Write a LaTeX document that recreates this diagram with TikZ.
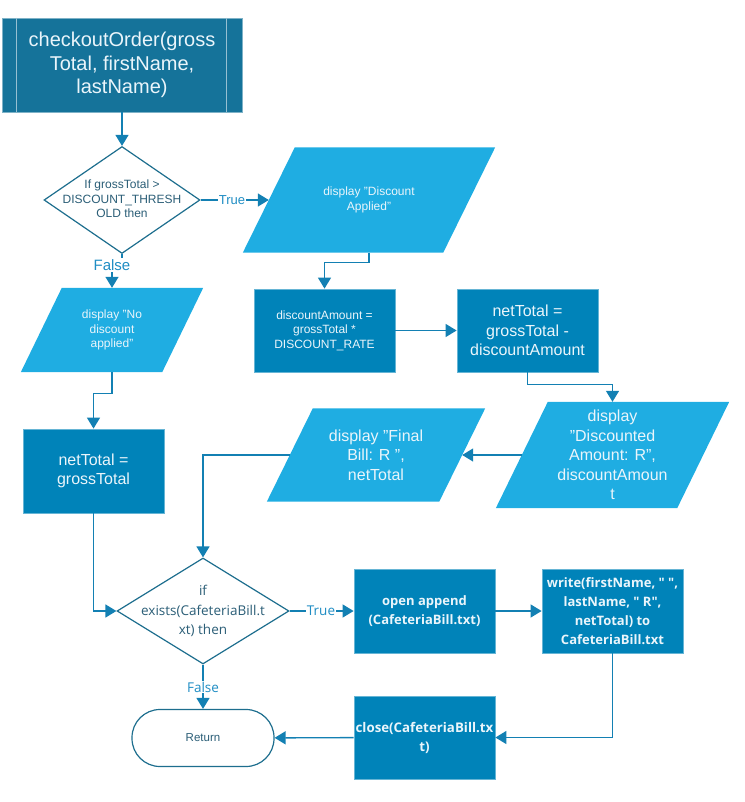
\documentclass[tikz,border=0pt]{standalone}
\usepackage{fontspec}
\setmainfont{Liberation Sans}
\newfontfamily\segoe{Open Sans}
\usetikzlibrary{arrows.meta,shapes.geometric,backgrounds}

\definecolor{startfill}{HTML}{15739A}
\definecolor{procfill}{HTML}{0083B9}
\definecolor{iofill}{HTML}{1FADE2}
\definecolor{flowline}{HTML}{1380B3}
\definecolor{decline}{HTML}{1D6E8E}
\definecolor{dectext}{HTML}{2B5E77}
\definecolor{lbl}{HTML}{1F8DC4}
\definecolor{boxtext}{HTML}{EAF5FB}

% straight double quote
\newcommand\dq{\symbol{34}}

% parallelogram fill behind an io node: #1 node name, #2 half of the slant
\newcommand\ioshape[2]{%
  \begin{scope}[on background layer]
    \fill[iofill] ([xshift=#2]#1.north west) -- ([xshift=#2]#1.north east)
      -- ([xshift=-#2]#1.south east) -- ([xshift=-#2]#1.south west) -- cycle;
  \end{scope}}

\tikzset{
  startbox/.style={rectangle, fill=startfill, draw=startfill!55!white, line width=0.8pt,
    text=boxtext, align=center, inner sep=0pt},
  proc/.style={rectangle, fill=procfill, draw=procfill!60!white, line width=0.8pt,
    text=boxtext, align=center, inner sep=0pt},
  iobox/.style={rectangle, inner sep=0pt, text=boxtext, align=center},
  decision/.style={diamond, draw=decline, fill=white, line width=1.2pt, inner sep=0pt},
  dectxt/.style={text=dectext, align=center, inner sep=0pt},
  terminal/.style={rectangle, rounded corners=28pt, draw=decline, fill=white, line width=1.2pt,
    text=dectext, inner sep=0pt},
  flow/.style={draw=flowline, line width=1.4pt, -{Triangle[width=13pt,length=11pt]}},
  edgelbl/.style={fill=white, text=lbl, inner sep=1pt},
  small/.style={font=\fontsize{12}{14.5}\selectfont},
  mid/.style={font=\fontsize{16}{19.5}\selectfont},
  sgo/.style={font=\segoe\fontsize{13.5}{19.5}\selectfont},
  sgob/.style={font=\segoe\bfseries\fontsize{13}{19}\selectfont},
}

\begin{document}
\begin{tikzpicture}[x=1pt,y=-1pt]
\useasboundingbox (0,0) rectangle (744,802);

% entry procedure
\node[startbox, minimum width=240, minimum height=94,
  font=\fontsize{20}{23.5}\selectfont] (start) at (122,65)
  {checkoutOrder(gross\\Total, firstName,\\lastName)};
\draw[startfill!45!white, line width=1.1pt]
  ([xshift=15]start.north west) -- ([xshift=15]start.south west)
  ([xshift=-16]start.north east) -- ([xshift=-16]start.south east);

% first decision
\node[decision, minimum width=156, minimum height=107] (d1) at (122,200) {};
\node[dectxt, small] (d1t) at (122,199) {If grossTotal >\\DISCOUNT\_THRESH\\OLD then};

% discount branch
\node[iobox, small, minimum width=200, minimum height=105] (pA) at (369,200)
  {display \dq Discount\\Applied\dq};
\ioshape{pA}{26}
\node[proc, small, minimum width=141, minimum height=83] (b1) at (324.5,330.5)
  {discountAmount =\\grossTotal *\\DISCOUNT\_RATE};
\node[proc, mid, minimum width=141, minimum height=83] (b2) at (527.5,330.5)
  {netTotal =\\grossTotal -\\discountAmount};
\node[iobox, mid, minimum width=181, minimum height=106] (pC) at (612.5,455)
  {display\\\dq Discounted\\Amount: R\dq,\\discountAmoun\\t};
\ioshape{pC}{26}
\node[iobox, mid, minimum width=172, minimum height=93] (pD) at (376,455)
  {display \dq Final\\Bill: R \dq,\\netTotal};
\ioshape{pD}{23}

% no-discount branch
\node[iobox, small, minimum width=141, minimum height=84] (pB) at (112,330)
  {display \dq No\\discount\\applied\dq};
\ioshape{pB}{20.5}
\node[proc, mid, minimum width=141, minimum height=84] (b3) at (93.5,471)
  {netTotal =\\grossTotal};

% file handling
\node[decision, minimum width=172, minimum height=106] (d2) at (203,611) {};
\node[dectxt, sgo] (d2t) at (203,611) {if\\exists(CafeteriaBill.t\\xt) then};
\node[proc, sgob, minimum width=141, minimum height=84] (b4) at (424.5,611)
  {open append\\(CafeteriaBill.txt)};
\node[proc, sgob, minimum width=141, minimum height=84] (b5) at (612.5,611)
  {write(firstName, \dq\ \dq,\\lastName, \dq\ R\dq,\\netTotal) to\\CafeteriaBill.txt};
\node[proc, font=\segoe\bfseries\fontsize{13.3}{19}\selectfont,
  minimum width=141, minimum height=83, text width=141, align=center] (b6) at (424.5,737.5)
  {close(CafeteriaBill.tx\\t)};
\node[terminal, minimum width=142, minimum height=57,
  font=\fontsize{11.5}{14}\selectfont] (ret) at (203,738) {Return};

% connectors
\draw[flow] (start) -- (d1);
\draw[flow] (d1.east) -- (pA.west);
\draw[flow] (d1.south) -- ++(0,11) -| (pB.north);
\draw[flow] (pA.south) -- ++(0,10) -| (b1.north);
\draw[flow] (b1) -- (b2);
\draw[flow] (b2.south) -- ++(0,12) -| (pC.north);
\draw[flow] (pC.west) -- (pD.east);
\draw[flow] (pD.west) -| (d2.north);
\draw[flow] (pB.south) -- ++(0,21) -| (b3.north);
\draw[flow] (b3.south) |- (d2.west);
\draw[flow] (d2.east) -- (b4.west);
\draw[flow] (b4) -- (b5);
\draw[flow] (b5.south) |- (b6.east);
\draw[flow] (b6) -- (ret);
\draw[flow] (d2.south) -- (ret.north);

% branch labels
\node[edgelbl, font=\fontsize{13}{15}\selectfont] (t1) at (232,200) {True};
\node[edgelbl, font=\fontsize{15}{17}\selectfont] (f1) at (112,265) {False};
\node[edgelbl, font=\segoe\fontsize{13.5}{16}\selectfont] (t2) at (321,611) {True};
\node[edgelbl, font=\segoe\fontsize{13.5}{16}\selectfont] (f2) at (203,687) {False};
\end{tikzpicture}
\end{document}
